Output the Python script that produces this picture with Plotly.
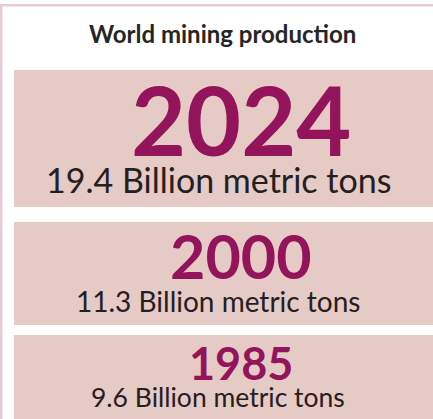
import plotly.graph_objects as go

title = "World mining production"
years = ["2024", "2000", "1985"]
values = [19.4, 11.3, 9.6]
unit = "Billion metric tons"

W, H = 433, 419
MAGENTA = "#93145a"
BOX = "#e6cac6"
DARK = "#242021"
BORDER = "#e7cbd6"

# layout of each panel: (top, bottom, year font, year centre, label font, label centre)
panels = [
    (70, 207, 95, 119, 34, 179.5),
    (222, 325, 61, 255, 28, 301),
    (335, 425, 45, 363, 26.5, 397),
]

fig = go.Figure()
fig.add_trace(go.Scatter(x=[0], y=[0], mode="markers", marker=dict(opacity=0), hoverinfo="skip"))

shapes = []
annotations = []
# frame lines
shapes.append(dict(type="rect", x0=-5, x1=W + 5, y0=4, y1=6.5, fillcolor=BORDER, line_width=0, layer="below"))
shapes.append(dict(type="rect", x0=-1, x1=2.5, y0=4, y1=H + 5, fillcolor=BORDER, line_width=0, layer="below"))

annotations.append(dict(x=222, y=33.5, text="<b>" + title + "</b>", showarrow=False,
                        xanchor="center", yanchor="middle",
                        font=dict(family="Lato", size=24, color="#262626")))

for yr, v, (t, b, yf, yc, lf, lc) in zip(years, values, panels):
    shapes.append(dict(type="rect", x0=14, x1=W + 5, y0=t, y1=b, fillcolor=BOX, line_width=0, layer="below"))
    annotations.append(dict(x=241, y=yc, text="<b>" + yr + "</b>", showarrow=False,
                            xanchor="center", yanchor="middle",
                            font=dict(family="Lato", size=yf, color=MAGENTA)))
    annotations.append(dict(x=218, y=lc, text=f"{v} {unit}", showarrow=False,
                            xanchor="center", yanchor="middle",
                            font=dict(family="Lato", size=lf, color=DARK)))

fig.update_layout(
    width=W, height=H,
    margin=dict(l=0, r=0, t=0, b=0),
    paper_bgcolor="white", plot_bgcolor="white",
    xaxis=dict(range=[0, W], visible=False, fixedrange=True),
    yaxis=dict(range=[H, 0], visible=False, fixedrange=True),
    shapes=shapes, annotations=annotations, showlegend=False,
)
fig.write_html("out.html", config={"displayModeBar": False},
               post_script="document.body.style.margin='0';document.body.style.overflow='hidden';")
